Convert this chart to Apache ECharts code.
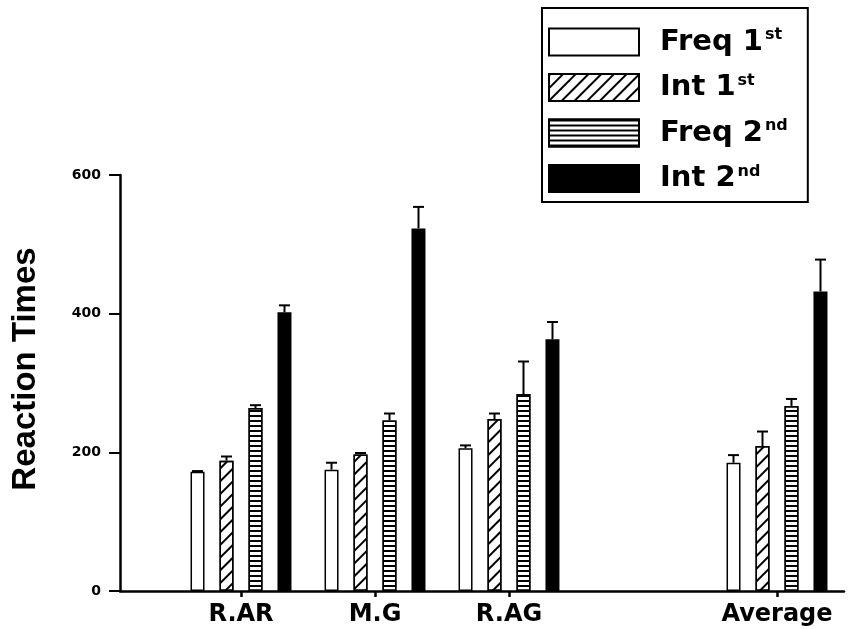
<!DOCTYPE html>
<html>
<head>
<meta charset="utf-8">
<script src="https://cdn.jsdelivr.net/npm/echarts@6/dist/echarts.min.js"></script>
<style>html,body{margin:0;padding:0;background:#fff}#c{width:855px;height:629px}</style>
</head>
<body>
<div id="c"></div>
<script>
// ---- data ----
var categories = ['R.AR', 'M.G', 'R.AG', '', 'Average'];
var yTicks = [0, 200, 400, 600];
var seriesNames = ['Freq 1st', 'Int 1st', 'Freq 2nd', 'Int 2nd'];
var freq1 = [172, 175, 206, null, 185];
var int1 = [188, 197, 248, null, 209];
var freq2 = [264, 246, 284, null, 267];
var int2 = [402, 523, 363, null, 432];
var freq1Err = [1, 10, 4, null, 11];
var int1Err = [6, 2, 8, null, 21];
var freq2Err = [4, 10, 47, null, 10];
var int2Err = [10, 31, 25, null, 46];

var values = [freq1, int1, freq2, int2];
var errs = [freq1Err, int1Err, freq2Err, int2Err];

var errData = [];
for (var s = 0; s < 4; s++) {
  for (var i = 0; i < categories.length; i++) {
    if (values[s][i] != null) errData.push([i, values[s][i], errs[s][i], s]);
  }
}

var chart = echarts.init(document.getElementById('c'), null, {renderer: 'canvas'});
var FONT = 'DejaVu Sans';
var BAR_STEP = 29;

var baseStyles = [
  {color: '#fff', borderColor: '#000', borderWidth: 1.5},
  {color: '#fff', borderColor: '#000', borderWidth: 1.5,
   decal: {symbol: 'rect', symbolSize: 1, color: '#000', dashArrayX: [1, 0], dashArrayY: [1.6, 7], rotation: -Math.PI / 4}},
  {color: '#fff', borderColor: '#000', borderWidth: 1.5,
   decal: {symbol: 'rect', symbolSize: 1, color: '#000', dashArrayX: [1, 0], dashArrayY: [2, 2.5], rotation: 0}},
  {color: '#000', borderColor: '#000', borderWidth: 1.5}
];

function legendFmt(name) {
  var parts = name.split(' ');
  var base = parts[0] + ' ' + parts[1].replace(/[a-z]+$/, '');
  var sup = parts[1].replace(/^[0-9]+/, '');
  return '{a|' + base + '}{s|' + sup + '}';
}

var barSeries = seriesNames.map(function (n, k) {
  return {
    name: n, type: 'bar', xAxisIndex: 1, yAxisIndex: 1,
    data: values[k], barWidth: 14, barGap: '107%',
    itemStyle: baseStyles[k], emphasis: {disabled: true}, animation: false
  };
});

var option = {
  animation: false,
  backgroundColor: '#fff',
  grid: [
    {left: 120, right: 11, top: 175, bottom: 38},
    {left: 174, right: 11, top: 175, bottom: 38}
  ],
  legend: {
    data: seriesNames,
    orient: 'vertical',
    left: 542, top: 8,
    itemWidth: 90, itemHeight: 27, itemGap: 16,
    icon: 'rect',
    padding: [19, 20, 9, 6],
    borderColor: '#000', borderWidth: 2,
    selectedMode: false,
    formatter: legendFmt,
    textStyle: {
      color: '#000',
      rich: {
        a: {fontFamily: FONT, fontWeight: 'bold', fontSize: 29, color: '#000', padding: [0, 0, 0, 16], lineHeight: 30},
        s: {fontFamily: FONT, fontWeight: 'bold', fontSize: 16, color: '#000', verticalAlign: 'top', lineHeight: 30, padding: [0, 0, 13, 2]}
      }
    }
  },
  xAxis: [
    {type: 'value', gridIndex: 0, min: 0, max: 1,
     axisLine: {show: true, onZero: false, lineStyle: {color: '#000', width: 2.5}},
     axisTick: {show: false}, axisLabel: {show: false}, splitLine: {show: false}},
    {type: 'category', gridIndex: 1, data: categories,
     axisLine: {show: false},
     axisTick: {show: true, alignWithLabel: true, length: 6, inside: false,
       interval: function (idx, val) { return val !== ''; },
       lineStyle: {color: '#000', width: 2.5}},
     axisLabel: {color: '#000', fontFamily: FONT, fontWeight: 'bold', fontSize: 24, margin: 12, interval: 0},
     splitLine: {show: false}}
  ],
  yAxis: [
    {type: 'value', gridIndex: 0, min: 0, max: 600, interval: 200,
     name: 'Reaction Times', nameLocation: 'middle', nameGap: 78, nameRotate: 90,
     nameTextStyle: {fontFamily: 'Liberation Sans', fontWeight: 'bold', fontSize: 33, color: '#000', padding: [0, 0, 0, 28]},
     axisLine: {show: true, lineStyle: {color: '#000', width: 2.5}},
     axisTick: {show: true, length: 11, inside: false, lineStyle: {color: '#000', width: 2}},
     axisLabel: {color: '#000', fontFamily: FONT, fontWeight: 'bold', fontSize: 14, margin: 19,
       customValues: yTicks},
     splitLine: {show: false}},
    {type: 'value', gridIndex: 1, min: 0, max: 600, interval: 200, show: false}
  ],
  series: barSeries.concat([{
    type: 'custom', xAxisIndex: 1, yAxisIndex: 1, silent: true, z: 5,
    data: errData,
    encode: {x: 0, y: 1},
    renderItem: function (params, api) {
      var cat = api.value(0), v = api.value(1), e = api.value(2), s = api.value(3);
      var p0 = api.coord([cat, v]);
      var p1 = api.coord([cat, v + e]);
      var x = p0[0] + (s - 1.5) * BAR_STEP;
      var st = {stroke: '#000', lineWidth: 2};
      return {type: 'group', children: [
        {type: 'line', shape: {x1: x, y1: p0[1], x2: x, y2: p1[1]}, style: st},
        {type: 'line', shape: {x1: x - 5.5, y1: p1[1], x2: x + 5.5, y2: p1[1]}, style: st}
      ]};
    }
  }])
};
chart.setOption(option);
</script>
</body>
</html>
